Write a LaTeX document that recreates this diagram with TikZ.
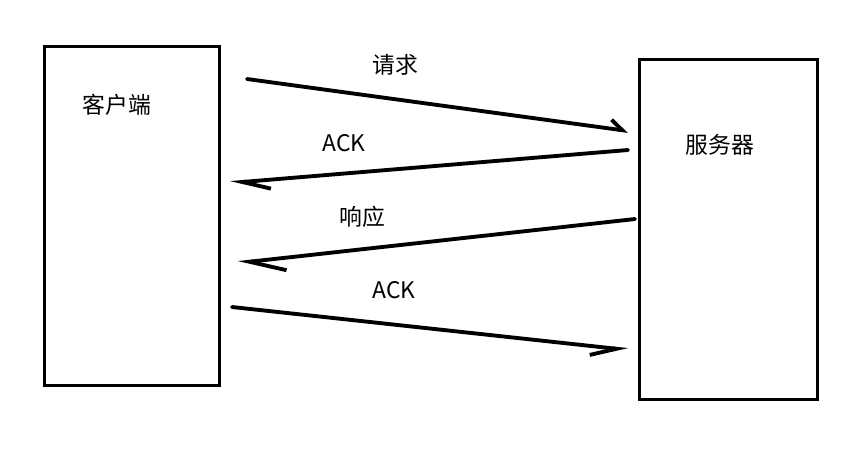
\documentclass[tikz,border=0pt]{standalone}
\usepackage{fontspec}
\setmainfont{Noto Sans CJK SC}
\usetikzlibrary{arrows.meta}

\tikzset{
  box/.style={draw, line width=1.7pt, minimum width=3.5cm, minimum height=6.8cm},
  lbl/.style={font=\fontsize{13}{15}\selectfont},
  msg/.style={line width=2.2pt, line cap=round}
}

\begin{document}
\begin{tikzpicture}[x=0.02cm, y=-0.02cm]
  \useasboundingbox (0,0) rectangle (868,458);
  % the two sides
  \node[box] (client) at (132,216) {};
  \node[box, minimum width=3.56cm] (server) at (728.5,229.5) {};
  \node[lbl] (clientlbl) at (117,105) {客户端};
  \node[lbl] (serverlbl) at (720,145) {服务器};

  % end points of the messages
  \coordinate (req-a) at (247,79);   \coordinate (req-b) at (628,131);
  \coordinate (ack1-a) at (628,150); \coordinate (ack1-b) at (230,183);
  \coordinate (res-a) at (635,219);  \coordinate (res-b) at (238,263);
  \coordinate (ack2-a) at (232,307); \coordinate (ack2-b) at (628,350);

  \draw[msg, -{Straight Barb[harpoon, length=0.24cm, width=0.36cm, line width=2.2pt]}] (req-a) -- (req-b);
  \draw[msg, -{Straight Barb[harpoon, length=0.56cm, width=0.36cm, line width=2.2pt]}] (ack1-a) -- (ack1-b);
  \draw[msg, -{Straight Barb[harpoon, length=0.72cm, width=0.5cm, line width=2.2pt]}] (res-a) -- (res-b);
  \draw[msg, -{Straight Barb[harpoon, swap, length=0.52cm, width=0.36cm, line width=2.2pt]}] (ack2-a) -- (ack2-b);

  % message labels
  \node[lbl] (reqlbl) at (395,65) {请求};
  \node[lbl] (ack1lbl) at (344,143) {ACK};
  \node[lbl] (reslbl) at (362,217) {响应};
  \node[lbl] (ack2lbl) at (394,290) {ACK};
\end{tikzpicture}
\end{document}
